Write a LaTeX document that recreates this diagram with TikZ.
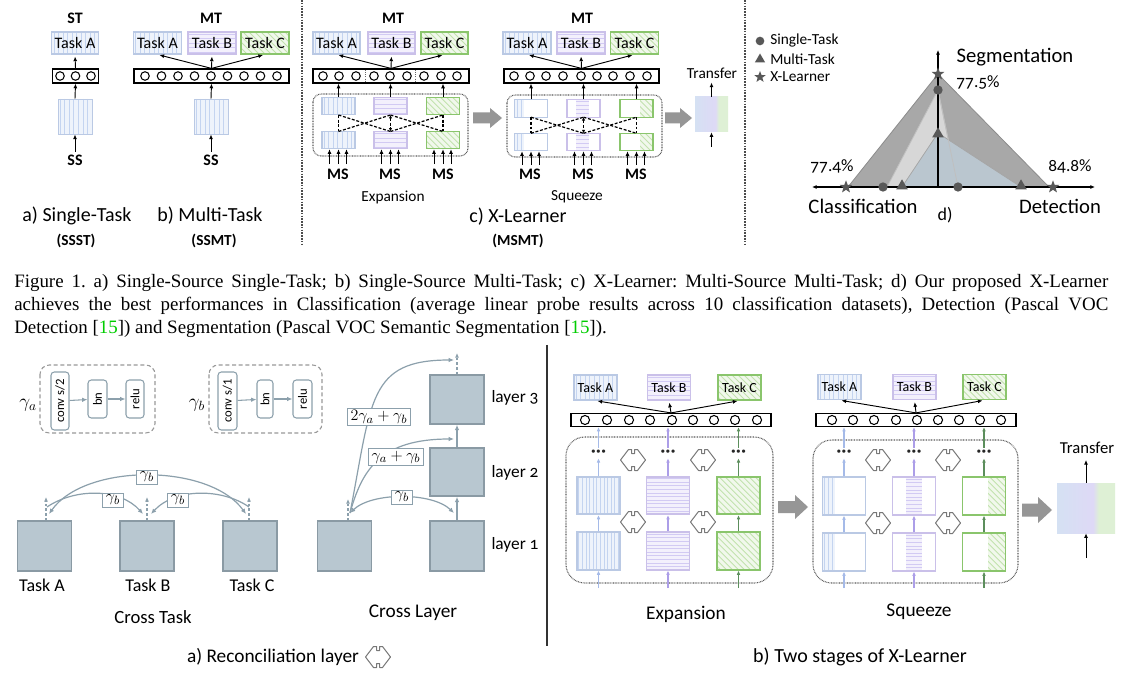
\documentclass[tikz,border=0pt]{standalone}
\usepackage{graphicx}
\usepackage{fontspec}
\setmainfont{Carlito}
\newfontfamily\capfont{Liberation Serif}
\usetikzlibrary{arrows.meta,shapes.geometric,calc}
\definecolor{bluS}{RGB}{196,212,240}
\definecolor{bluB}{RGB}{186,201,228}
\definecolor{bluF}{RGB}{238,243,251}
\definecolor{purS}{RGB}{210,202,243}
\definecolor{purB}{RGB}{202,192,233}
\definecolor{purF}{RGB}{243,240,252}
\definecolor{grnS}{RGB}{194,226,174}
\definecolor{grnB}{RGB}{138,197,108}
\definecolor{grnF}{RGB}{241,248,236}
\definecolor{bluA}{RGB}{165,186,232}
\definecolor{purA}{RGB}{172,158,232}
\definecolor{grnA}{RGB}{92,142,92}
\definecolor{bluG}{RGB}{213,225,243}
\definecolor{purG}{RGB}{222,217,246}
\definecolor{grnG}{RGB}{222,240,213}
\definecolor{slate}{RGB}{184,199,208}
\definecolor{slateB}{RGB}{138,154,164}
\definecolor{conn}{RGB}{140,160,172}
\definecolor{radO}{RGB}{168,168,168}
\definecolor{radS}{RGB}{215,215,215}
\definecolor{radM}{RGB}{186,198,207}
\definecolor{mark}{RGB}{88,88,88}
\definecolor{blkarr}{RGB}{150,150,150}
\definecolor{recol}{RGB}{120,120,120}
\definecolor{refgreen}{RGB}{0,205,0}
\pgfdeclarehorizontalshading{trsh}{100bp}{color(0bp)=(bluG); color(25bp)=(bluG); color(56bp)=(purG); color(61bp)=(grnG); color(100bp)=(grnG)}
\newcommand\fs[1]{\fontsize{#1}{#1}\selectfont}
\newcommand\garrow[6]{%
  \fill[blkarr] (#1,{#3-#4}) -- ({#2-#6},{#3-#4}) -- ({#2-#6},{#3-#5}) -- (#2,#3) -- ({#2-#6},{#3+#5}) -- ({#2-#6},{#3+#4}) -- (#1,{#3+#4}) -- cycle;}
\newcommand\dcross[5]{%
  \draw[dcr] (#1,#4) -- (#1,#5);
  \draw[dcr] (#3,#4) -- (#3,#5);
  \draw[dcr] (#1,#4) -- (#2,#5);
  \draw[dcr] (#1,#5) -- (#2,#4);
  \draw[dcr] (#2,#4) -- (#3,#5);
  \draw[dcr] (#2,#5) -- (#3,#4);
  \draw[dcr,{Latex[length=2.5pt,width=2.5pt]}-{Latex[length=2.5pt,width=2.5pt]}] (#2,#4) -- (#2,#5);}
\newcommand\tdots{\textbf{\char"00B7\kern0.4pt\char"00B7\kern0.4pt\char"00B7}}
\tikzset{
 vstr/.style 2 args={path picture={\foreach \i in {#2}{\draw[#1,line width=0.6pt] ([xshift=\i pt]path picture bounding box.north west) -- ([xshift=\i pt]path picture bounding box.south west);}}},
 hstr/.style 2 args={path picture={\foreach \i in {#2}{\draw[#1,line width=0.6pt] ([yshift=-\i pt]path picture bounding box.north west) -- ([yshift=-\i pt]path picture bounding box.north east);}}},
 dstr/.style 2 args={path picture={\foreach \i in {#2}{\draw[#1,line width=0.7pt] ([xshift=\i pt]path picture bounding box.north west) -- ++(50pt,-50pt);}}},
 tA/.style={fill=bluF, draw=bluB, vstr={bluS}{1.7,5.1,...,40}},
 tB/.style={fill=purF, draw=purB, hstr={purS}{1.7,5.1,...,30}},
 tC/.style={fill=grnF, draw=grnB, dstr={grnS}{-30,-25.5,...,45}},
 lbl/.style={inner sep=0pt, font=\fs{#1}},
 bld/.style={inner sep=0pt, font=\bfseries\fs{#1}},
 tsk/.style={minimum width=#1, minimum height=16.5pt, inner sep=0pt, line width=0.8pt, font=\fs{12}},
 tskS/.style={minimum width=32.25pt, minimum height=18.75pt, inner sep=0pt, line width=1pt, font=\fs{10.5}},
 barn/.style={draw, line width=0.9pt, minimum width=#1, minimum height=10.5pt, inner sep=0pt},
 ring/.style={line width=0.8pt, fill=white},
 arr/.style={-{Latex[length=3.5pt,width=3pt]}, line width=0.7pt},
 srcb/.style={minimum width=25.5pt, minimum height=26.25pt, inner sep=0pt, fill=bluF, draw=bluB, line width=0.6pt, vstr={bluS}{1.7,5.1,...,30}},
 eblk/.style={minimum width=24.75pt, minimum height=13pt, inner sep=0pt, line width=0.8pt},
 dotb/.style={rounded corners=6pt, dash pattern=on 0.6pt off 0.6pt, line width=0.8pt, black!65},
 dcr/.style={line width=0.9pt, dash pattern=on 2.2pt off 1.3pt, black},
 divl/.style={line width=0.9pt, dash pattern=on 1.2pt off 0.9pt, black!70},
 trbox/.style={inner sep=0pt, shading=trsh},
 mcirc/.style={circle, fill=mark, minimum size=7pt, inner sep=0pt},
 mtri/.style={regular polygon, regular polygon sides=3, fill=mark, minimum size=10pt, inner sep=0pt},
 mstar/.style={star, star points=5, star point ratio=2.4, fill=mark, minimum size=10pt, inner sep=0pt},
 dashb/.style={rounded corners=7pt, dash pattern=on 3pt off 2pt, draw=black!40, line width=0.8pt},
 opn/.style={draw=conn, rounded corners=2.5pt, line width=0.8pt, inner sep=0pt, font=\fs{9.5}},
 carr/.style={conn, line width=0.9pt, -{Latex[length=4pt,width=3.4pt]}},
 cdash/.style={conn, line width=0.8pt, dash pattern=on 2pt off 1.5pt, -{Latex[length=3.5pt,width=3pt]}},
 sq/.style={fill=slate, draw=slateB, line width=1.2pt, minimum width=40.5pt, minimum height=37.5pt, inner sep=0pt},
 glab/.style={draw=conn, fill=white, line width=0.7pt, inner xsep=2.5pt, inner ysep=1.5pt, font=\fs{12.5}},
 bigblk/.style={minimum width=32.25pt, minimum height=28.1pt, inner sep=0pt, line width=1.2pt},
 ovl/.style={minimum height=28.1pt, minimum width=#1, inner sep=0pt},
 arrA/.style={-{Latex[length=3.2pt,width=2.8pt]}, line width=0.9pt, bluA},
 arrP/.style={-{Latex[length=3.2pt,width=2.8pt]}, line width=0.9pt, purA},
 arrG/.style={-{Latex[length=3.2pt,width=2.8pt]}, line width=0.9pt, grnA},
 dotsn/.style={inner sep=0pt, minimum height=7.5pt, font=\fs{13}, text=black!85},
 recon/.pic={\draw[recol, line width=0.75pt, line join=round] (-12.5,0) -- (-4.5,-10.5) -- (-1.5,-10.5) -- (-1.5,-6.5) -- (1.5,-6.5) -- (1.5,-10.5) -- (4.5,-10.5) -- (12.5,0) -- (4.5,10.5) -- (1.5,10.5) -- (1.5,6.5) -- (-1.5,6.5) -- (-1.5,10.5) -- (-4.5,10.5) -- cycle;}
}
\begin{document}
\frenchspacing
\begin{tikzpicture}[x=0.75pt,y=-0.75pt]
\useasboundingbox (0,0) rectangle (1134,680);
\fill[white] (0,0) rectangle (1134,680);

% ================= a) single task =================
\node[bld=12] (hST) at (75,18) {ST};
\node[tsk=35pt, tA] (a1) at (75,43) {Task A};
\node[barn=35pt] (bar1) at (75.5,76) {};
\foreach \cx in {60,75.5,91} \draw[ring] (\cx,76) circle[radius=3.2pt];
\node[srcb] (s1) at (75,116.5) {};
\node[bld=12] (ss1) at (75,160) {SS};
\draw[arr, shorten <=2pt] (ss1.north) -- (s1.south);
\draw[arr] (s1.north) -- (bar1.south);
\draw[arr, shorten >=1.5pt] (bar1.north) -- (a1.south);
\node[lbl=15] (capa) at (77,216) {a) Single-Task};
\node[bld=11.5] (capa2) at (76,241) {(SSST)};

% ================= b) multi task =================
\node[bld=12] (hMT1) at (211,18) {MT};
\node[tsk=36pt, tA] (b1) at (157.5,43) {Task A};
\node[tsk=36pt, tB] (b2) at (212,43) {Task B};
\node[tsk=36pt, tC] (b3) at (265,43) {Task C};
\node[barn=116.25pt] (bar2) at (211.5,76) {};
\foreach \k in {0,...,8} \draw[ring] ({145+16.5*\k},76) circle[radius=3.2pt];
\node[srcb] (s2) at (211,116.5) {};
\node[bld=12] (ss2) at (211,160) {SS};
\draw[arr, shorten <=2pt] (ss2.north) -- (s2.south);
\draw[arr] (s2.north) -- (bar2.south);
\foreach \t in {b1,b2,b3} \draw[arr, shorten >=1.5pt] (bar2.north) -- (\t.south);
\node[lbl=15] (capb) at (210,216) {b) Multi-Task};
\node[bld=11.5] (capb2) at (214,241) {(SSMT)};

\coordinate (dv1a) at (302,0); \coordinate (dv1b) at (302,246);
\coordinate (dv2a) at (745,0); \coordinate (dv2b) at (745,246);
\draw[divl] (dv1a) -- (dv1b);
\draw[divl] (dv2a) -- (dv2b);

% ================= c) expansion (top) =================
\node[bld=12] (hMT2) at (393,18) {MT};
\node[tsk=35.25pt, tA] (c1) at (336.5,43) {Task A};
\node[tsk=35.25pt, tB] (c2) at (391.5,43) {Task B};
\node[tsk=35.25pt, tC] (c3) at (444.5,43) {Task C};
\node[barn=117pt] (bar3) at (391,76) {};
\draw[densely dotted, black!60, line width=0.6pt] (365,70) -- (365,82);
\draw[densely dotted, black!60, line width=0.6pt] (415.5,70) -- (415.5,82);
\foreach \cx in {323,339,356,374,390,407,424,441,457} \draw[ring] (\cx,76) circle[radius=3.2pt];
\foreach \t in {c1,c2,c3} \draw[arr, shorten >=1.5pt] (bar3.north) -- (\t.south);
\draw[dotb] (313,94) rectangle (468,156);
\node[eblk, tA] (e1t) at (338.5,106) {};
\node[eblk, tB] (e2t) at (390.5,106) {};
\node[eblk, tC] (e3t) at (443,106) {};
\node[eblk, tA] (e1b) at (338.5,140) {};
\node[eblk, tB] (e2b) at (390.5,140) {};
\node[eblk, tC] (e3b) at (443,140) {};
\foreach \t in {e1t,e2t,e3t} \draw[arr] (\t.north) -- (\t.north |- bar3.south);
\dcross{338.5}{390.5}{443}{115}{131.5}
\foreach \t in {e1b,e2b,e3b}{\foreach \dx in {-9,0,8} \draw[arr] ($(\t.south)+(\dx,15)$) -- ($(\t.south)+(\dx,0)$);}
\node[bld=12] (ms1) at (338,174) {MS};
\node[bld=12] (ms2) at (390,174) {MS};
\node[bld=12] (ms3) at (443,174) {MS};
\node[lbl=11.5] (expT) at (393,197) {Expansion};
\garrow{473}{502}{118}{5.5}{10}{12}

% ================= c) squeeze (top) =================
\node[bld=12] (hMT3) at (582,18) {MT};
\node[tsk=36pt, tA] (d1) at (527,43) {Task A};
\node[tsk=36pt, tB] (d2) at (581,43) {Task B};
\node[tsk=36pt, tC] (d3) at (634.5,43) {Task C};
\node[barn=116.25pt] (bar4) at (581.5,76) {};
\foreach \cx in {514,530,546,563,581,597,613,630,647} \draw[ring] (\cx,76) circle[radius=3.2pt];
\foreach \t in {d1,d2,d3} \draw[arr, shorten >=1.5pt] (bar4.north) -- (\t.south);
\draw[dotb] (507,95) rectangle (662,157);
\foreach \yy/\r in {108.5/t,142/b}{
  \node[eblk, minimum width=6.75pt, fill=bluF, vstr={bluS}{1.5,4.5}] (fo1\r) at (519.5,\yy) {};
  \node[eblk, minimum width=9.75pt, fill=purF, hstr={purS}{1.2,4.2,...,14}] (fo2\r) at (582.5,\yy) {};
  \node[eblk, minimum width=9.75pt, fill=grnF, dstr={grnS}{-14,-9.5,...,12}] (fo3\r) at (646.5,\yy) {};
  \node[eblk, draw=bluB] (f1\r) at (531,\yy) {};
  \node[eblk, draw=purB] (f2\r) at (583.5,\yy) {};
  \node[eblk, draw=grnB] (f3\r) at (636.5,\yy) {};
}
\foreach \t in {f1t,f2t,f3t} \draw[arr] (\t.north) -- (\t.north |- bar4.south);
\dcross{531}{583.5}{636.5}{117.2}{133.3}
\foreach \t in {f1b,f2b,f3b}{\foreach \dx in {-9,0,8} \draw[arr] ($(\t.south)+(\dx,14)$) -- ($(\t.south)+(\dx,0)$);}
\node[bld=12] (ms4) at (530,174) {MS};
\node[bld=12] (ms5) at (583,174) {MS};
\node[bld=12] (ms6) at (636,174) {MS};
\node[lbl=11.5] (sqT) at (577,197) {Squeeze};
\garrow{665}{692}{118}{5.5}{10}{12}
\node[trbox, minimum width=24.75pt, minimum height=26.25pt] (tr1) at (711.5,114.5) {};
\node[lbl=11.5] (trl1) at (712,73) {Transfer};
\draw[arr, shorten >=3pt] (tr1.north) -- (tr1.north |- trl1.south);
\coordinate (trin1) at (711.5,147);
\draw[arr] (trin1) -- (tr1.south);
\node[lbl=15] (capc) at (518,217) {c) X-Learner};
\node[bld=11.5] (capc2) at (518,241) {(MSMT)};

% ================= d) radar =================
\coordinate (ro) at (938,187);
\coordinate (rXl) at (848,187); \coordinate (rXt) at (938,74); \coordinate (rXr) at (1049,187);
\coordinate (rSl) at (887,187); \coordinate (rSt) at (938,90); \coordinate (rSr) at (958,187);
\coordinate (rMl) at (902,187); \coordinate (rMt) at (938,133); \coordinate (rMr) at (1021,187);
\filldraw[fill=radO, draw=black!45, line width=0.6pt] (rXl) -- (rXt) -- (rXr) -- cycle;
\filldraw[fill=radS, draw=black!25, line width=0.6pt] (rSl) -- (rSt) -- (rSr) -- cycle;
\filldraw[fill=radM, draw=black!35, line width=0.6pt] (rMl) -- (rMt) -- (rMr) -- cycle;
\draw[black!25, line width=0.6pt] (rSt) -- (rSr);
\coordinate (rAy) at (938,50); \coordinate (rAl) at (812,187); \coordinate (rAr) at (1095,187);
\draw[arr, line width=0.8pt] (ro) -- (rAy);
\draw[arr, line width=0.8pt, {Latex[length=3.5pt,width=3pt]}-{Latex[length=3.5pt,width=3pt]}] (rAl) -- (rAr);
\node[mstar] (mX1) at (rXt) {};
\node[mstar] (mX2) at (846,187) {};
\node[mstar] (mX3) at (1053,187) {};
\node[mcirc] (mS1) at (rSt) {};
\node[mcirc] (mS2) at (883,187) {};
\node[mcirc] (mS3) at (rSr) {};
\node[mtri] (mM1) at (938,134) {};
\node[mtri] (mM2) at (902,186) {};
\node[mtri] (mM3) at (1021,186) {};
\node[mcirc, minimum size=6.5pt] (lg1) at (760,41) {};
\node[mtri, minimum size=9pt] (lg2) at (760,59.5) {};
\node[mstar, minimum size=9pt] (lg3) at (760,77) {};
\node[lbl=11.5, anchor=west] (lgt1) at (770,41) {Single-Task};
\node[lbl=11.5, anchor=west] (lgt2) at (770,59) {Multi-Task};
\node[lbl=11.5, anchor=west] (lgt3) at (770,77) {X-Learner};
\node[lbl=15.5] (seg) at (1015,57) {Segmentation};
\node[lbl=13] (pc1) at (978,82) {\addfontfeature{Numbers=OldStyle}77.5\%};
\node[lbl=13] (pc2) at (832,166) {\addfontfeature{Numbers=OldStyle}77.4\%};
\node[lbl=13] (pc3) at (1070,166) {\addfontfeature{Numbers=OldStyle}84.8\%};
\node[lbl=15.5] (cls) at (863,206) {Classification};
\node[lbl=15.5] (det) at (1060,206) {Detection};
\node[lbl=13.5] (dd) at (945,215) {d)};

% ================= caption =================
\node[anchor=base west, inner sep=0pt] (cap1) at (14,288) {\capfont\fontsize{14.2}{17}\selectfont\makebox[820.5pt][s]{Figure 1. a) Single-Source Single-Task; b) Single-Source Multi-Task; c) X-Learner: Multi-Source Multi-Task; d) Our proposed X-Learner}};
\node[anchor=base west, inner sep=0pt] (cap2) at (14,311) {\capfont\fontsize{14.2}{17}\selectfont\makebox[820.5pt][s]{achieves the best performances in Classification (average linear probe results across 10 classification datasets), Detection (Pascal VOC}};
\node[anchor=base west, inner sep=0pt] (cap3) at (14,334) {\capfont\fontsize{14.2}{17}\selectfont Detection [\textcolor{refgreen}{15}]) and Segmentation (Pascal VOC Semantic Segmentation [\textcolor{refgreen}{15}]).};

% ================= bottom divider =================
\coordinate (bdA) at (547,345); \coordinate (bdB) at (547,646);
\draw[line width=0.9pt, black!80] (bdA) -- (bdB);

% ================= reconciliation layer =================
\draw[dashb] (40,365) rectangle (155,433);
\node[opn, minimum width=13.5pt, minimum height=43.5pt] (cv1) at (60,401) {\rotatebox{90}{conv s/2}};
\node[opn, minimum width=14.25pt, minimum height=28.5pt] (bn1) at (97.5,399) {\rotatebox{90}{bn}};
\node[opn, minimum width=13.5pt, minimum height=28.5pt] (rl1) at (135,399) {\rotatebox{90}{relu}};
\draw[carr, line width=0.8pt] (cv1) -- (bn1);
\draw[carr, line width=0.8pt] (bn1) -- (rl1);
\node[lbl=14] (ga) at (28,405) {$\gamma_a$};
\draw[dashb] (209,365) rectangle (322,433);
\node[opn, minimum width=14.25pt, minimum height=43.5pt] (cv2) at (227.5,401) {\rotatebox{90}{conv s/1}};
\node[opn, minimum width=12pt, minimum height=28.5pt] (bn2) at (265,399) {\rotatebox{90}{bn}};
\node[opn, minimum width=14.25pt, minimum height=28.5pt] (rl2) at (302.5,399) {\rotatebox{90}{relu}};
\draw[carr, line width=0.8pt] (cv2) -- (bn2);
\draw[carr, line width=0.8pt] (bn2) -- (rl2);
\node[lbl=14] (gb) at (197,405) {$\gamma_b$};

% cross task
\node[sq] (TA) at (44.5,546) {};
\node[sq] (TB) at (147,546) {};
\node[sq] (TC) at (250,546) {};
\coordinate (uA) at (46,497); \coordinate (uB) at (147,497); \coordinate (uC) at (249,497);
\draw[cdash] (TA.north -| uA) -- (uA);
\draw[cdash] (TB.north -| uB) -- (uB);
\draw[cdash] (TC.north -| uC) -- (uC);
\coordinate (pA) at (49,514); \coordinate (pC) at (246,514);
\coordinate (pB1) at (143,514); \coordinate (pB2) at (151,514);
\coordinate (pA2) at (47,507); \coordinate (pC2) at (249,507);
\draw[carr, {Latex[length=4pt,width=3.4pt]}-{Latex[length=4pt,width=3.4pt]}] (pA) .. controls (85,463) and (209,463) .. (pC);
\draw[carr] (pA2) .. controls (75,488) and (120,488) .. (pB1);
\draw[carr] (pC2) .. controls (222,488) and (175,488) .. (pB2);
\node[glab] (g1) at (147,477) {$\gamma_b$};
\node[glab] (g2) at (113,500) {$\gamma_b$};
\node[glab] (g3) at (178,500) {$\gamma_b$};
\node[lbl=13.5] (lA) at (42,585) {Task A};
\node[lbl=13.5] (lB) at (148,585) {Task B};
\node[lbl=13.5] (lC) at (252,585) {Task C};
\node[lbl=14] (ctask) at (153,617) {Cross Task};

% cross layer
\node[sq] (L0) at (344.5,546) {};
\node[sq] (L1) at (457,546) {};
\node[sq, minimum height=36pt] (L2) at (457,472) {};
\node[sq, minimum height=36.75pt] (L3) at (457,399.5) {};
\draw[carr] (L1.north) -- (L2.south);
\draw[carr] (L2.north) -- (L3.south);
\coordinate (u3) at (457,353);
\draw[cdash] (L3.north) -- (u3);
\coordinate (u0) at (348,499);
\draw[cdash] (L0.north -| u0) -- (u0);
\coordinate (o) at (350,513);
\coordinate (q1) at (454,513); \coordinate (q2) at (454,439); \coordinate (q3) at (454,360);
\draw[carr, {Latex[length=4pt,width=3.4pt]}-{Latex[length=4pt,width=3.4pt]}] (o) .. controls (372,492) and (432,492) .. (q1);
\draw[carr] (o) .. controls (362,470) and (380,439) .. (q2);
\draw[carr] (o) .. controls (372,400) and (368,360) .. (q3);
\node[glab] (g4) at (402,497) {$\gamma_b$};
\node[glab] (g5) at (396,457) {$\gamma_a+\gamma_b$};
\node[glab] (g6) at (379,417) {$2\gamma_a+\gamma_b$};
\node[lbl=13] (ly3) at (515,398) {layer \addfontfeature{Numbers=OldStyle}3};
\node[lbl=13] (ly2) at (515,473) {layer \addfontfeature{Numbers=OldStyle}2};
\node[lbl=13] (ly1) at (515,545) {layer \addfontfeature{Numbers=OldStyle}1};
\node[lbl=14.5] (clay) at (413,613) {Cross Layer};
\node[lbl=14.5] (reca) at (273,657) {a) Reconciliation layer};
\pic at (378,657) {recon};

% ================= b) two stages: expansion =================
\node[tskS, tA] (x1) at (595.5,387.5) {Task A};
\node[tskS, tB] (x2) at (669,387.5) {Task B};
\node[tskS, tC] (x3) at (739.5,387.5) {Task C};
\node[barn=150pt, minimum height=9.75pt] (bar5) at (671,420) {};
\foreach \cx in {585,607,629,650,672,693,714,735,757} \draw[ring] (\cx,420) circle[radius=3.4pt];
\foreach \t in {x1,x2,x3} \draw[arr, shorten >=1.5pt] (bar5.north) -- (\t.south);
\draw[dotb, rounded corners=14pt] (566,437) rectangle (773,583);
\node[bigblk, tA, line width=1.2pt, vstr={bluS}{1.4,4.1,...,34}] (xa1) at (598.5,495.5) {};
\node[bigblk, tA, line width=1.2pt, vstr={bluS}{1.4,4.1,...,34}] (xa2) at (598.5,551) {};
\node[bigblk, tB, line width=1.2pt, hstr={purS}{1.4,4.1,...,30}] (xb1) at (668,495.5) {};
\node[bigblk, tB, line width=1.2pt, hstr={purS}{1.4,4.1,...,30}] (xb2) at (668,551) {};
\node[bigblk, tC, line width=1.3pt] (xc1) at (738.5,495.5) {};
\node[bigblk, tC, line width=1.3pt] (xc2) at (738.5,551) {};
\node[dotsn] (xd1) at (598.5,453) {\tdots};
\node[dotsn] (xd2) at (668,453) {\tdots};
\node[dotsn] (xd3) at (738.5,453) {\tdots};
\coordinate (xi1) at (598.5,588); \coordinate (xi2) at (668,588); \coordinate (xi3) at (738.5,588);
\draw[arrA] (xi1) -- (xa2.south); \draw[arrA] (xa2.north) -- (xa1.south); \draw[arrA] (xa1.north) -- (xd1.south); \draw[arrA] (xd1.north) -- (xd1.north |- bar5.south);
\draw[arrP] (xi2) -- (xb2.south); \draw[arrP] (xb2.north) -- (xb1.south); \draw[arrP] (xb1.north) -- (xd2.south); \draw[arrP] (xd2.north) -- (xd2.north |- bar5.south);
\draw[arrG] (xi3) -- (xc2.south); \draw[arrG] (xc2.north) -- (xc1.south); \draw[arrG] (xc1.north) -- (xd3.south); \draw[arrG] (xd3.north) -- (xd3.north |- bar5.south);
\pic at (633,460) {recon}; \pic at (703,460) {recon};
\pic at (633,522) {recon}; \pic at (703,522) {recon};
\node[lbl=14.5] (expL) at (686,614) {Expansion};
\garrow{778}{808}{507}{6}{12}{13}

% ================= b) two stages: squeeze =================
\node[tskS, tA] (y1) at (839.5,387) {Task A};
\node[tskS, tB] (y2) at (914.5,387) {Task B};
\node[tskS, tC] (y3) at (984.5,387) {Task C};
\node[barn=150pt, minimum height=9.75pt] (bar6) at (916,420) {};
\foreach \cx in {832,853,874,896,917,938,959,980,1001} \draw[ring] (\cx,420) circle[radius=3.4pt];
\foreach \t in {y1,y2,y3} \draw[arr, shorten >=1.5pt] (bar6.north) -- (\t.south);
\draw[dotb, rounded corners=14pt] (813,440) rectangle (1018,583);
\foreach \yy/\r in {496/t,552/b}{
  \node[ovl=9pt, fill=bluF, vstr={bluS}{1.4,4.1,6.8}] (yo1\r) at (829,\yy) {};
  \node[ovl=12pt, fill=purF, hstr={purS}{1.4,4.1,...,30}] (yo2\r) at (914,\yy) {};
  \node[ovl=12.75pt, fill=grnF, dstr={grnS}{-30,-25.5,...,14}] (yo3\r) at (996.5,\yy) {};
  \node[bigblk, draw=bluB] (ya\r) at (844,\yy) {};
  \node[bigblk, draw=purB] (yb\r) at (914,\yy) {};
  \node[bigblk, draw=grnB, line width=1.3pt] (yc\r) at (984,\yy) {};
}
\node[dotsn] (yd1) at (844,453) {\tdots};
\node[dotsn] (yd2) at (914,453) {\tdots};
\node[dotsn] (yd3) at (984,453) {\tdots};
\coordinate (yi1) at (844,588); \coordinate (yi2) at (914,588); \coordinate (yi3) at (984,588);
\draw[arrA] (yi1) -- (yab.south); \draw[arrA] (yab.north) -- (yat.south); \draw[arrA] (yat.north) -- (yd1.south); \draw[arrA] (yd1.north) -- (yd1.north |- bar6.south);
\draw[arrP] (yi2) -- (ybb.south); \draw[arrP] (ybb.north) -- (ybt.south); \draw[arrP] (ybt.north) -- (yd2.south); \draw[arrP] (yd2.north) -- (yd2.north |- bar6.south);
\draw[arrG] (yi3) -- (ycb.south); \draw[arrG] (ycb.north) -- (yct.south); \draw[arrG] (yct.north) -- (yd3.south); \draw[arrG] (yd3.north) -- (yd3.north |- bar6.south);
\pic at (878,460) {recon}; \pic at (948,460) {recon};
\pic at (878,523) {recon}; \pic at (948,523) {recon};
\node[lbl=14.5] (sqL) at (919,612) {Squeeze};
\garrow{1022}{1052}{510}{6.5}{13}{14}
\node[trbox, minimum width=43.5pt, minimum height=37.5pt] (tr2) at (1086,508) {};
\node[lbl=12.5] (trl2) at (1087,448) {Transfer};
\coordinate (tro2) at (1086,460); \coordinate (tri2) at (1086,558);
\draw[arr] (tr2.north) -- (tro2);
\draw[arr] (tri2) -- (tr2.south);
\node[lbl=15] (capB) at (860,657) {b) Two stages of X-Learner};
\end{tikzpicture}
\end{document}
